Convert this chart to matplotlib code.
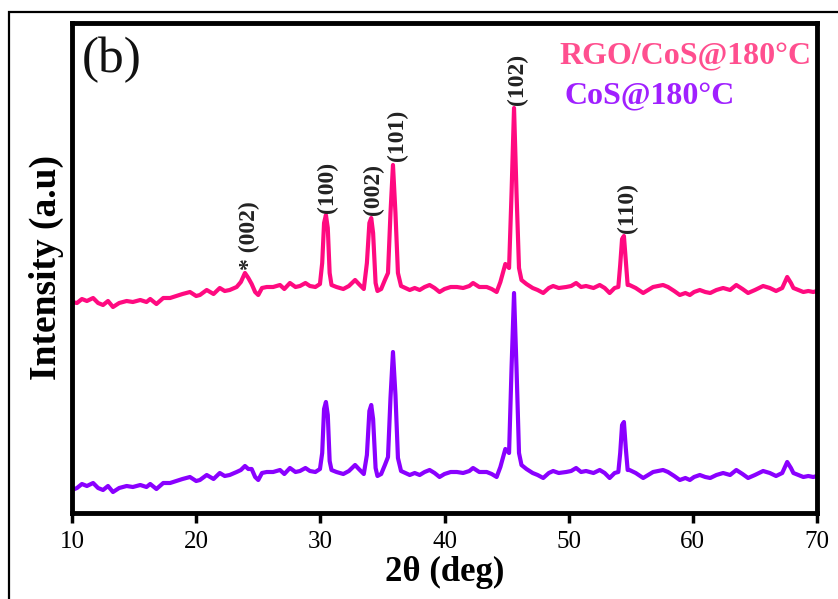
import matplotlib
matplotlib.use("Agg")
import matplotlib.pyplot as plt
from matplotlib.patches import Rectangle

# ---------------- data ----------------
two_theta = [10.0, 10.4, 10.8, 11.2, 11.7, 12.1, 12.5, 12.9, 13.3, 13.8, 14.4, 14.9, 15.5, 16.0, 16.3,
             16.8, 17.35, 17.9, 18.4, 18.9, 19.5, 20.0, 20.3, 20.85, 21.4, 21.9, 22.3, 22.7, 23.26, 23.6,
             23.93, 24.2, 24.47, 24.75, 25.0, 25.3, 25.68, 26.2, 26.75, 27.1, 27.55, 28.0, 28.36, 28.8, 29.16,
             29.6, 29.97, 30.15, 30.3, 30.45, 30.6, 30.75, 30.9, 31.3, 31.85, 32.3, 32.8, 33.1, 33.5, 33.75,
             33.95, 34.1, 34.25, 34.45, 34.6, 34.9, 35.2, 35.45, 35.65, 35.85, 36.05, 36.25, 36.5, 37.2, 37.6,
             38.0, 38.4, 38.8, 39.2, 39.6, 40.0, 40.5, 41.0, 41.5, 42.0, 42.3, 42.8, 43.4, 43.8, 44.2,
             44.5, 44.9, 45.2, 45.4, 45.6, 45.8, 46.0, 46.2, 46.6, 47.1, 47.5, 47.95, 48.4, 48.75, 49.2,
             49.8, 50.2, 50.6, 51.0, 51.4, 52.0, 52.5, 52.9, 53.3, 53.7, 54.0, 54.15, 54.3, 54.45, 54.6,
             54.75, 54.9, 55.4, 56.0, 56.4, 56.8, 57.2, 57.6, 58.0, 58.5, 58.95, 59.4, 59.76, 60.1, 60.56,
             61.0, 61.4, 61.9, 62.44, 63.0, 63.5, 64.0, 64.45, 65.0, 65.66, 66.2, 66.7, 67.2, 67.6, 67.9,
             68.1, 68.5, 68.9, 69.3, 69.7, 70.0]

rgo_cos = [211, 210, 214, 212, 215, 210, 208, 212, 206, 210, 212, 211, 213, 211, 214,
           209, 215, 215, 217, 219, 221, 217, 218, 223, 219, 225, 222, 223, 226, 231,
           240, 235, 229, 221, 218, 225, 226, 226, 228, 224, 230, 226, 227, 230, 227,
           226, 229, 250, 290, 298, 285, 240, 228, 226, 224, 227, 233, 229, 224, 250,
           290, 295, 280, 230, 222, 224, 233, 240, 300, 348, 300, 240, 227, 223, 225,
           223, 226, 228, 225, 221, 224, 226, 226, 225, 227, 230, 226, 226, 224, 221,
           231, 249, 245, 320, 405, 320, 245, 233, 229, 225, 223, 220, 225, 227, 225,
           226, 227, 230, 226, 227, 225, 228, 225, 220, 225, 226, 248, 274, 277, 252,
           228, 228, 225, 220, 223, 226, 227, 228, 226, 222, 218, 220, 218, 221, 223,
           221, 220, 223, 225, 223, 228, 224, 220, 223, 227, 225, 222, 225, 236, 230,
           225, 223, 221, 222, 221, 222]

cos_only = [23, 25, 29, 27, 30, 25, 23, 27, 21, 25, 27, 26, 28, 26, 29,
            24, 30, 30, 32, 34, 36, 32, 33, 38, 34, 40, 37, 38, 41, 43,
            47, 44, 44, 36, 33, 40, 41, 41, 43, 39, 45, 41, 42, 45, 42,
            41, 44, 60, 104, 111, 98, 52, 43, 41, 39, 42, 48, 44, 39, 58,
            102, 108, 94, 45, 37, 39, 48, 56, 115, 161, 118, 55, 42, 38, 40,
            38, 41, 43, 40, 36, 39, 41, 41, 40, 42, 45, 41, 41, 39, 36,
            46, 64, 60, 145, 220, 145, 60, 48, 44, 40, 38, 35, 40, 42, 40,
            41, 42, 45, 41, 42, 40, 43, 40, 35, 40, 41, 60, 88, 91, 65,
            43, 43, 40, 35, 38, 41, 42, 43, 41, 37, 33, 35, 33, 36, 38,
            36, 35, 38, 40, 38, 43, 39, 35, 38, 42, 40, 37, 40, 51, 45,
            40, 38, 36, 37, 36, 37]

peak_labels = ["* (002)", "(100)", "(002)", "(101)", "(102)", "(110)"]
peak_pos = [24.3, 30.6, 34.25, 36.2, 45.85, 54.7]
peak_top = [243, 300, 298, 352, 408, 280]

x_ticks = [10, 20, 30, 40, 50, 60, 70]

# ---------------- figure ----------------
W, H = 838, 599
fig = plt.figure(figsize=(W / 100, H / 100), dpi=100)
serif = ["Liberation Serif", "DejaVu Serif"]

def fx(px):
    return px / W

def fy(py):
    return 1 - py / H

# outer frame (partially cut by the image edge)
fig.patches.append(Rectangle((fx(9), fy(640)), fx(860) - fx(9), fy(12) - fy(640),
                             transform=fig.transFigure, fill=False, lw=1.6,
                             edgecolor="black", clip_on=False))

ax = fig.add_axes([fx(72), fy(513), fx(817) - fx(72), fy(23) - fy(513)])

pink = "#ff0a80"
purple = "#8a00ff"
ax.plot(two_theta, rgo_cos, color=pink, lw=3.0, solid_joinstyle="round")
ax.plot(two_theta, cos_only, color=purple, lw=3.0, solid_joinstyle="round")

ax.set_xlim(10, 70)
ax.set_ylim(0, 490)
ax.set_yticks([])
ax.set_xticks(x_ticks)
ax.set_xticklabels([str(t) for t in x_ticks], fontfamily=serif, fontsize=18)
ax.tick_params(axis="x", direction="out", length=7, width=2.5, pad=6)

for s in ax.spines.values():
    s.set_linewidth(3.5)

ax.set_xlabel("2θ (deg)", fontfamily=serif, fontsize=25, fontweight="bold", labelpad=2)
ax.set_ylabel("Intensity (a.u)", fontfamily=serif, fontsize=27, fontweight="bold", labelpad=6)

for lab, xp, yp in zip(peak_labels, peak_pos, peak_top):
    ax.text(xp, yp, lab, rotation=90, ha="center", va="bottom",
            fontfamily=serif, fontsize=17, fontweight="bold", color="#222222")

fig.text(fx(82), fy(60), "(b)", fontfamily=serif, fontsize=37, ha="left", va="center", color="#111111")
fig.text(fx(559), fy(57), "RGO/CoS@180°C", fontfamily=serif, fontsize=23, fontweight="bold",
         ha="left", va="center", color="#ff4f8f")
fig.text(fx(565), fy(97), "CoS@180°C", fontfamily=serif, fontsize=23, fontweight="bold",
         ha="left", va="center", color="#a020ff")

fig.savefig("out.png", dpi=100)
